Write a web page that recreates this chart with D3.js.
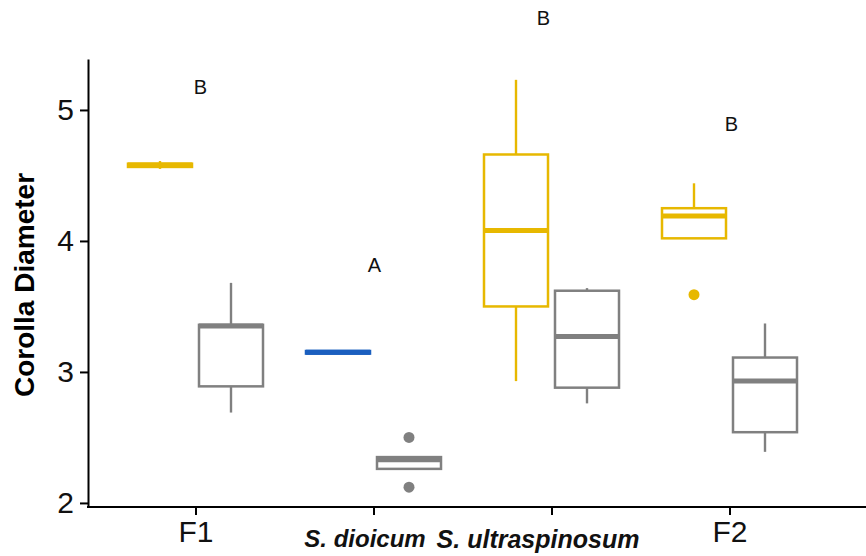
<!DOCTYPE html>
<html>
<head>
<meta charset="utf-8">
<script src="https://cdn.jsdelivr.net/npm/d3@7"></script>
<style>
  body { margin: 0; background: #fff; }
  svg { font-family: "Liberation Sans", Arial, sans-serif; }
</style>
</head>
<body>
<div id="svgcontainer"></div>
<script>
let width = 866;
let height = 556;

// categories on the x axis
let categories = ["F1", "S. dioicum", "S. ultraspinosum", "F2"];
let italicCats = ["S. dioicum", "S. ultraspinosum"];
// significance letters per category
let letters = ["B", "A", "B", "B"];
let letterY = [5.12, 3.76, 5.65, 4.84];
let letterDx = [5, 1, -8, 2];

// colored (parent / hybrid) boxes, one per category
let colQ1 = [4.565, 3.14, 3.50, 4.02];
let colMed = [4.58, 3.15, 4.08, 4.19];
let colQ3 = [4.59, 3.16, 4.66, 4.25];
let colLo = [4.55, 3.14, 2.93, 4.02];
let colHi = [4.61, 3.16, 5.23, 4.44];
let colOut = [[], [], [], [3.59]];
let colColor = ["#E7B800", "#1B5FBF", "#E7B800", "#E7B800"];

// grey boxes, one per category
let greyQ1 = [2.89, 2.26, 2.88, 2.54];
let greyMed = [3.35, 2.33, 3.27, 2.93];
let greyQ3 = [3.36, 2.35, 3.62, 3.11];
let greyLo = [2.69, 2.26, 2.76, 2.39];
let greyHi = [3.68, 2.35, 3.64, 3.37];
let greyOut = [[], [2.50, 2.12], [], []];

let yTicks = [2, 3, 4, 5];

let svg = d3.select("#svgcontainer")
    .append("svg")
    .attr("width", width)
    .attr("height", height);

let x = d3.scalePoint()
    .domain(categories)
    .range([195.5, 729.5]);

let y = d3.scaleLinear()
    .domain([1.969, 5.389])
    .range([507, 59]);

let boxW = 64;
let dodge = 35.5;

let boxes = [];
categories.forEach((c, i) => {
    boxes.push({ cat: c, off: -dodge, q1: colQ1[i], med: colMed[i], q3: colQ3[i], lo: colLo[i], hi: colHi[i], out: colOut[i], color: colColor[i] });
    boxes.push({ cat: c, off: dodge, q1: greyQ1[i], med: greyMed[i], q3: greyQ3[i], lo: greyLo[i], hi: greyHi[i], out: greyOut[i], color: "#808080" });
});

let g = svg.append("g").attr("class", "boxes");
let b = g.selectAll("g.box").data(boxes).enter()
    .append("g")
    .attr("class", "box")
    .attr("transform", d => "translate(" + (x(d.cat) + d.off) + ",0)");

// whiskers
b.append("line")
    .attr("x1", 0).attr("x2", 0)
    .attr("y1", d => y(d.hi)).attr("y2", d => y(d.q3))
    .attr("stroke", d => d.color).attr("stroke-width", 2.4);
b.append("line")
    .attr("x1", 0).attr("x2", 0)
    .attr("y1", d => y(d.q1)).attr("y2", d => y(d.lo))
    .attr("stroke", d => d.color).attr("stroke-width", 2.4);
// box
b.append("rect")
    .attr("x", -boxW / 2)
    .attr("width", boxW)
    .attr("y", d => y(d.q3))
    .attr("height", d => y(d.q1) - y(d.q3))
    .attr("fill", "#fff")
    .attr("stroke", d => d.color)
    .attr("stroke-width", 2.5);
// median
b.append("line")
    .attr("x1", -boxW / 2).attr("x2", boxW / 2)
    .attr("y1", d => y(d.med)).attr("y2", d => y(d.med))
    .attr("stroke", d => d.color)
    .attr("stroke-width", 5);
// outliers
b.selectAll("circle")
    .data(d => d.out.map(v => ({ v: v, color: d.color })))
    .enter()
    .append("circle")
    .attr("cx", 0)
    .attr("cy", d => y(d.v))
    .attr("r", 5.5)
    .attr("fill", d => d.color);

// letters
svg.append("g").selectAll("text")
    .data(categories)
    .enter()
    .append("text")
    .attr("x", (d, i) => x(d) + letterDx[i])
    .attr("y", (d, i) => y(letterY[i]))
    .attr("text-anchor", "middle")
    .style("font-size", "20px")
    .style("fill", "#111")
    .text((d, i) => letters[i]);

// x axis
let xAxis = svg.append("g")
    .attr("class", "xaxis axis")
    .attr("transform", "translate(0,507)")
    .call(d3.axisBottom(x).tickSize(8).tickSizeOuter(0).tickPadding(8));
xAxis.select(".domain").attr("d", "M87,0H866").attr("stroke", "#000").attr("stroke-width", 2);
xAxis.selectAll(".tick line").attr("stroke", "#000").attr("stroke-width", 2);
xAxis.selectAll(".tick text")
    .style("fill", "#111")
    .style("font-size", d => d === "S. dioicum" ? "24px" : (d === "S. ultraspinosum" ? "25px" : "30px"))
    .style("font-weight", d => italicCats.includes(d) ? "bold" : "normal")
    .style("font-style", d => italicCats.includes(d) ? "italic" : "normal")
    .attr("dx", d => d === "S. dioicum" ? -9 : (d === "S. ultraspinosum" ? -14 : 0))
    .attr("dy", d => italicCats.includes(d) ? "1.0em" : "0.62em");

// y axis
let yAxis = svg.append("g")
    .attr("class", "yaxis axis")
    .attr("transform", "translate(88,0)")
    .call(d3.axisLeft(y).tickValues(yTicks).tickFormat(d3.format("d")).tickSize(8).tickSizeOuter(0).tickPadding(6));
yAxis.select(".domain").attr("stroke", "#000").attr("stroke-width", 2);
yAxis.selectAll(".tick line").attr("stroke", "#000").attr("stroke-width", 2);
yAxis.selectAll(".tick text")
    .style("fill", "#111")
    .style("font-size", "30px");

svg.append("text")
    .attr("transform", "translate(34,285) rotate(-90)")
    .attr("text-anchor", "middle")
    .style("font-size", "28px")
    .style("font-weight", "bold")
    .style("fill", "#000")
    .text("Corolla Diameter");
</script>
</body>
</html>
